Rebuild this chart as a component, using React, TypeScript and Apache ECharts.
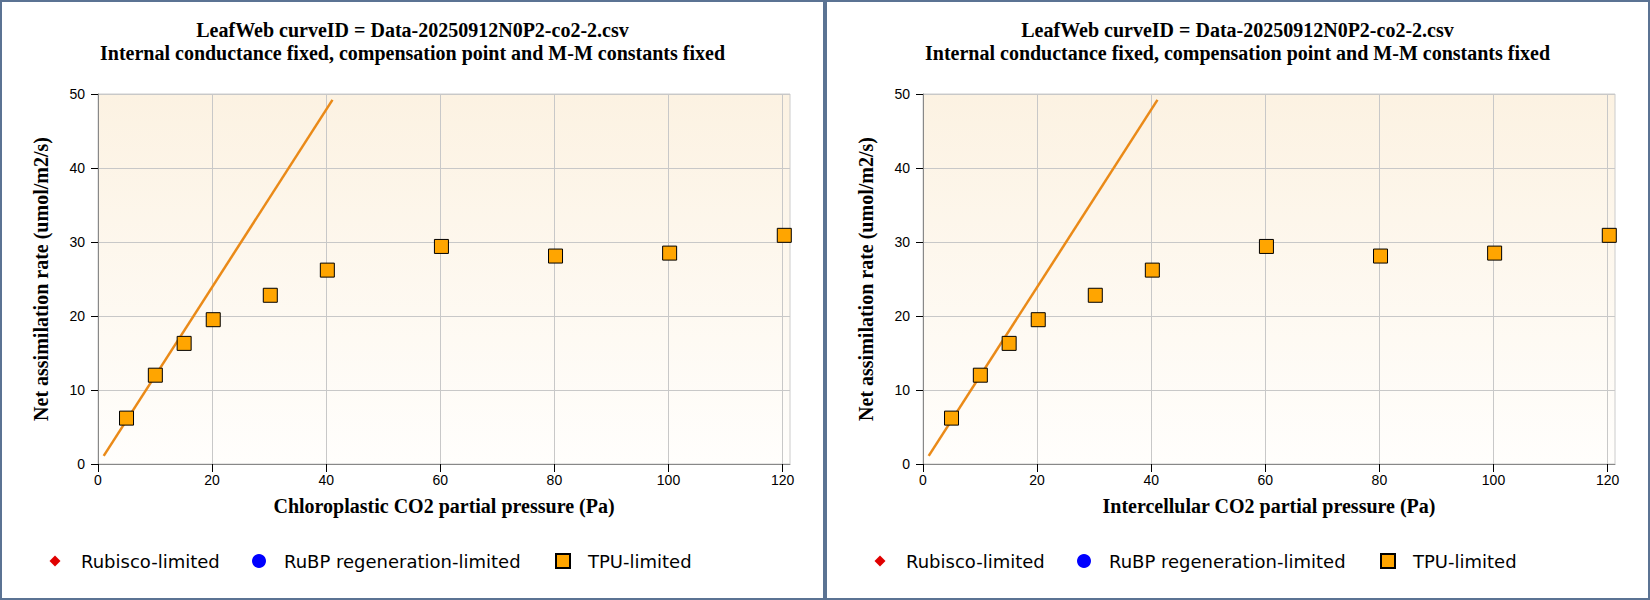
import React, { useEffect, useRef } from 'react';
import * as echarts from 'echarts';

const titleLines = [
  'LeafWeb curveID = Data-20250912N0P2-co2-2.csv',
  'Internal conductance fixed, compensation point and M-M constants fixed',
];
const xAxisNames = ['Chloroplastic CO2 partial pressure (Pa)', 'Intercellular CO2 partial pressure (Pa)'];
const yAxisName = 'Net assimilation rate (umol/m2/s)';
const legendNames = ['Rubisco-limited', 'RuBP regeneration-limited', 'TPU-limited'];

const xTicks = [0, 20, 40, 60, 80, 100, 120];
const yTicks = [0, 10, 20, 30, 40, 50];

// measured points
const tpuX = [5.0, 10.05, 15.1, 20.2, 30.2, 40.2, 60.2, 80.2, 100.2, 120.3];
const tpuY = [6.2, 12.0, 16.3, 19.5, 22.8, 26.2, 29.4, 28.1, 28.5, 30.9];
const rubiscoX: number[] = [];
const rubiscoY: number[] = [];
const rubpX: number[] = [];
const rubpY: number[] = [];

// fitted line
const lineX = [1.0, 41.1];
const lineY = [1.1, 49.2];

const zip = (xs: number[], ys: number[]) => xs.map((x, i) => [x, ys[i]]);

const serif = 'Liberation Serif, Times New Roman, serif';
const sans = 'DejaVu Sans, Verdana, sans-serif';
const tickFont = 'Liberation Sans, Arial, sans-serif';

const Panel: React.FC<{ xName: string; left: number }> = ({ xName, left }) => {
  const chartRef = useRef<HTMLDivElement>(null);

  useEffect(() => {
    if (!chartRef.current) return undefined;
    const chart = echarts.init(chartRef.current, undefined, { renderer: 'svg' });

    const legendText = (pad: number) => ({
      fontFamily: sans,
      fontSize: 18,
      lineHeight: 21,
      color: '#000',
      padding: [0, 0, 0, pad],
    });

    chart.setOption({
      animation: false,
      title: {
        text: titleLines.join('\n'),
        left: 'center',
        top: 16.5,
        padding: 0,
        textStyle: { fontFamily: serif, fontWeight: 'bold', fontSize: 20, lineHeight: 23, color: '#000' },
      },
      grid: {
        left: 96,
        top: 92,
        right: 33,
        bottom: 134,
        show: true,
        borderColor: '#ccc',
        borderWidth: 1,
        backgroundColor: {
          type: 'linear',
          x: 0,
          y: 0,
          x2: 0,
          y2: 1,
          colorStops: [
            { offset: 0, color: '#FCF2E2' },
            { offset: 1, color: '#FFFEFC' },
          ],
        },
      },
      legend: [
        { data: [legendNames[0]], left: 47.5, top: 548.5, padding: 0, itemWidth: 11, itemHeight: 11, textStyle: legendText(15.5) },
        { data: [legendNames[1]], left: 250, top: 548.5, padding: 0, itemWidth: 14, itemHeight: 14, textStyle: legendText(13) },
        { data: [legendNames[2]], left: 553, top: 548.5, padding: 0, itemWidth: 14, itemHeight: 14, textStyle: legendText(13) },
      ],
      xAxis: {
        type: 'value',
        min: 0,
        max: 121.3,
        interval: 20,
        name: xName,
        nameLocation: 'middle',
        nameGap: 32,
        nameTextStyle: { fontFamily: serif, fontWeight: 'bold', fontSize: 20, color: '#000' },
        axisLine: { show: true, lineStyle: { color: '#888', width: 1 } },
        axisTick: { show: true, length: 8, customValues: xTicks, lineStyle: { color: '#000' } },
        axisLabel: {
          margin: 9,
          customValues: xTicks,
          fontFamily: tickFont,
          fontSize: 14,
          color: '#000',
          formatter: (v: number) => (v % 20 === 0 ? String(v) : ''),
        },
        splitLine: { show: true, lineStyle: { color: '#c8c8c8', width: 1 } },
      },
      yAxis: {
        type: 'value',
        min: 0,
        max: 50,
        interval: 10,
        name: yAxisName,
        nameLocation: 'middle',
        nameGap: 47,
        nameTextStyle: { fontFamily: serif, fontWeight: 'bold', fontSize: 20, color: '#000' },
        axisLine: { show: true, lineStyle: { color: '#888', width: 1 } },
        axisTick: { show: true, length: 7, customValues: yTicks, lineStyle: { color: '#000' } },
        axisLabel: { margin: 13, customValues: yTicks, fontFamily: tickFont, fontSize: 14, color: '#000' },
        splitLine: { show: true, lineStyle: { color: '#c8c8c8', width: 1 } },
      },
      series: [
        {
          name: 'fit',
          type: 'line',
          data: zip(lineX, lineY),
          symbol: 'none',
          lineStyle: { color: '#EA8A18', width: 2.5 },
          z: 1,
        },
        {
          name: legendNames[0],
          type: 'scatter',
          symbol: 'diamond',
          symbolSize: 11,
          itemStyle: { color: '#E00000', opacity: 1 },
          data: zip(rubiscoX, rubiscoY),
        },
        {
          name: legendNames[1],
          type: 'scatter',
          symbol: 'circle',
          symbolSize: 14,
          itemStyle: { color: '#0000FF', opacity: 1 },
          data: zip(rubpX, rubpY),
        },
        {
          name: legendNames[2],
          type: 'scatter',
          symbol: 'rect',
          symbolSize: 14,
          itemStyle: { color: '#FFA500', borderColor: '#000', borderWidth: 1, opacity: 1 },
          data: zip(tpuX, tpuY),
          z: 3,
        },
      ],
    });

    return () => {
      chart.dispose();
    };
  }, [xName]);

  return (
    <div
      style={{
        position: 'absolute',
        left,
        top: 0,
        width: 821,
        height: 596,
        border: '2px solid #5B7393',
        background: '#fff',
      }}
    >
      <div ref={chartRef} style={{ width: 821, height: 596 }} />
    </div>
  );
};

const App: React.FC = () => (
  <div style={{ position: 'absolute', left: 0, top: 0, width: 1650, height: 600, background: '#fff' }}>
    <Panel xName={xAxisNames[0]} left={0} />
    <Panel xName={xAxisNames[1]} left={825} />
  </div>
);

export default App;
